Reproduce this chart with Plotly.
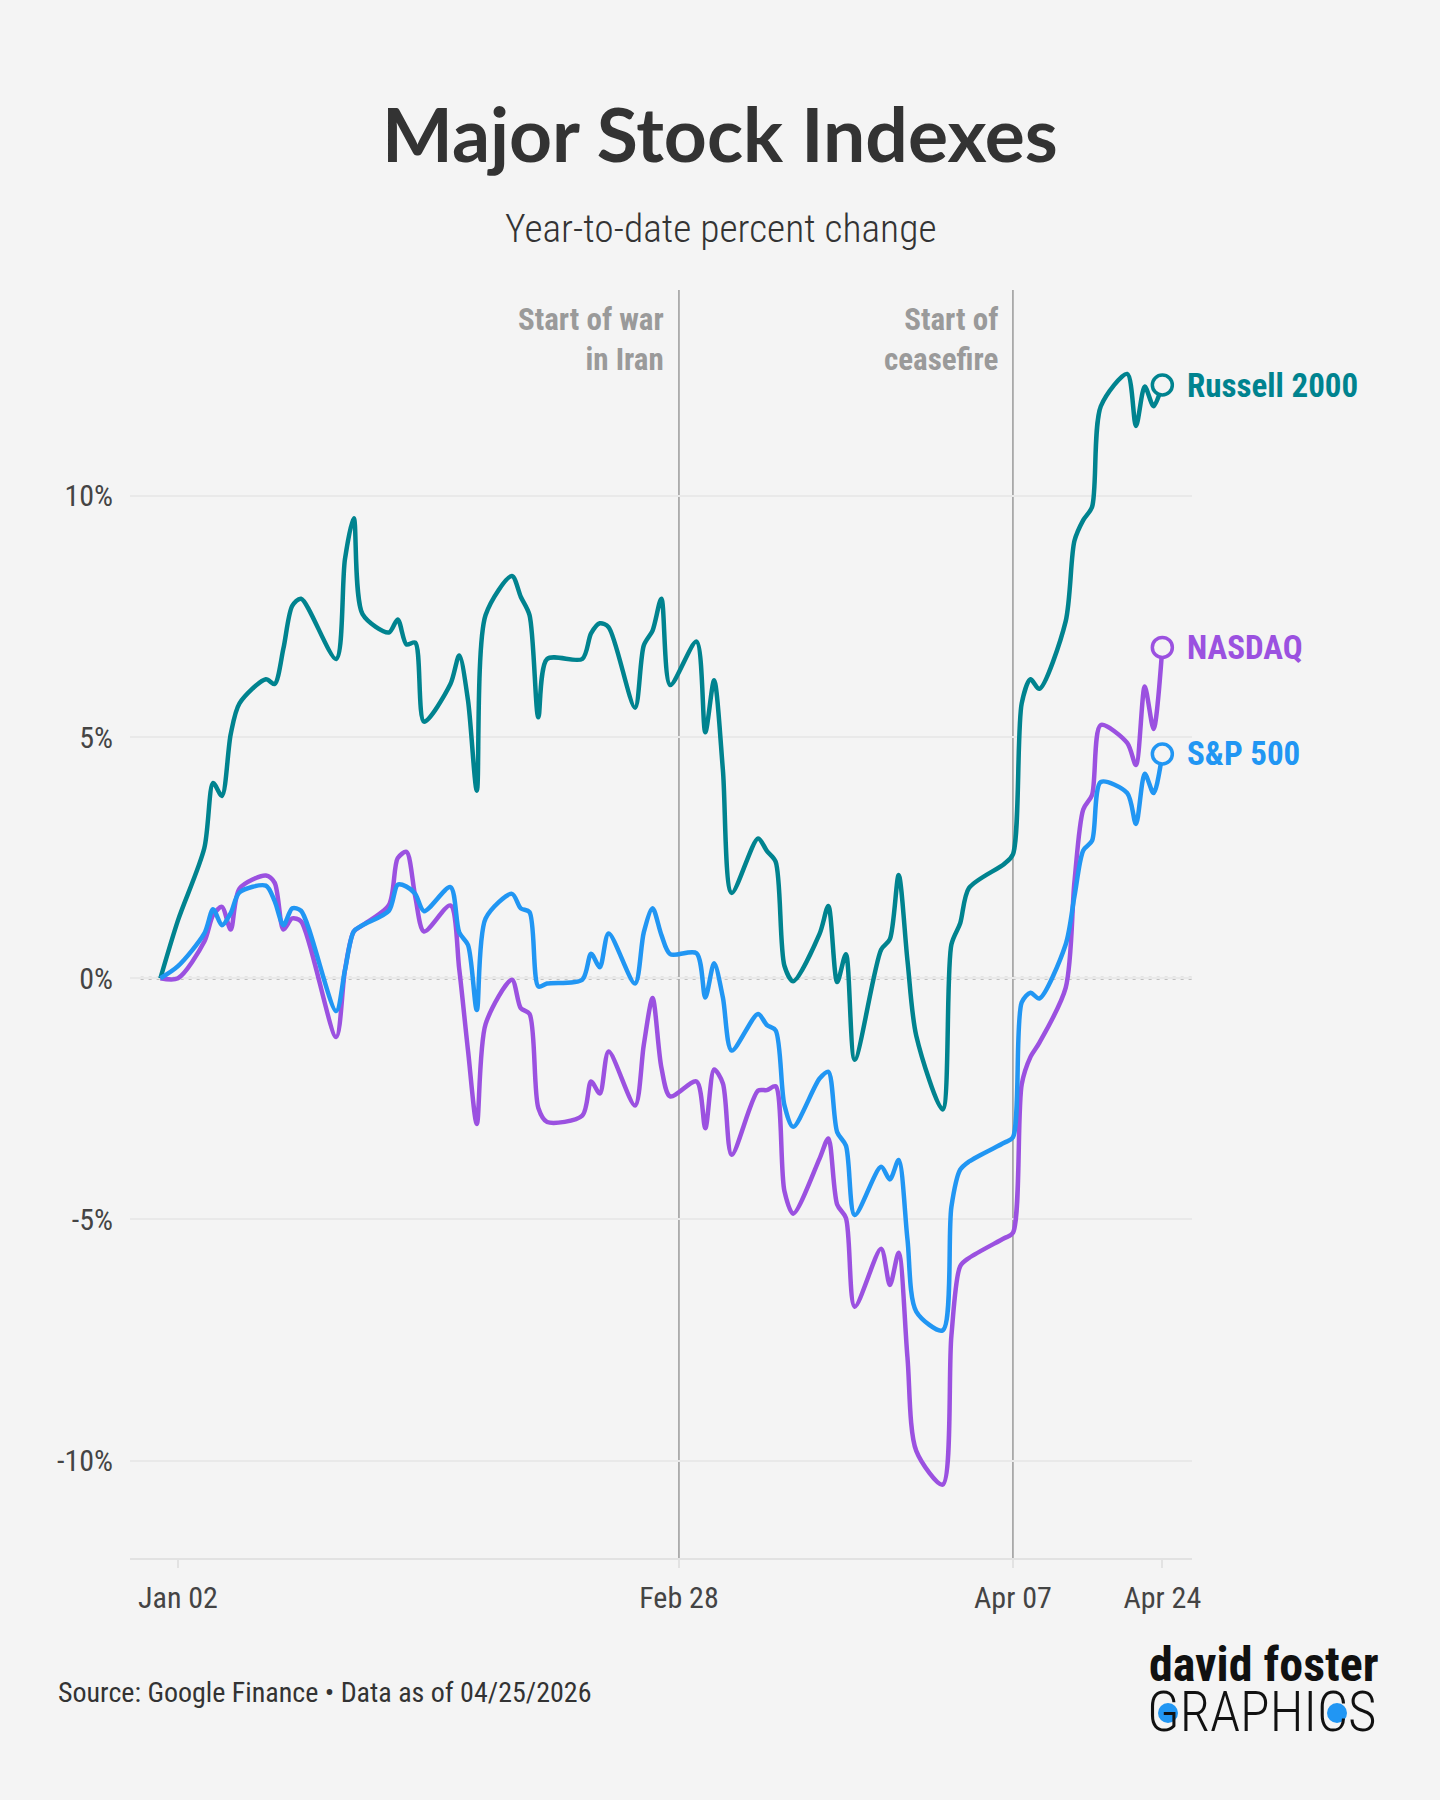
import plotly.graph_objects as go

dates = [
    "2025-12-31", "2026-01-02",
    "2026-01-05", "2026-01-06", "2026-01-07", "2026-01-08", "2026-01-09",
    "2026-01-12", "2026-01-13", "2026-01-14", "2026-01-15", "2026-01-16",
    "2026-01-20", "2026-01-21", "2026-01-22", "2026-01-23",
    "2026-01-26", "2026-01-27", "2026-01-28", "2026-01-29", "2026-01-30",
    "2026-02-02", "2026-02-03", "2026-02-04", "2026-02-05", "2026-02-06",
    "2026-02-09", "2026-02-10", "2026-02-11", "2026-02-12", "2026-02-13",
    "2026-02-17", "2026-02-18", "2026-02-19", "2026-02-20",
    "2026-02-23", "2026-02-24", "2026-02-25", "2026-02-26", "2026-02-27",
    "2026-03-02", "2026-03-03", "2026-03-04", "2026-03-05", "2026-03-06",
    "2026-03-09", "2026-03-10", "2026-03-11", "2026-03-12", "2026-03-13",
    "2026-03-16", "2026-03-17", "2026-03-18", "2026-03-19", "2026-03-20",
    "2026-03-23", "2026-03-24", "2026-03-25", "2026-03-26", "2026-03-27",
    "2026-03-30", "2026-03-31", "2026-04-01", "2026-04-02",
    "2026-04-06", "2026-04-07", "2026-04-08", "2026-04-09", "2026-04-10",
    "2026-04-13", "2026-04-14", "2026-04-15", "2026-04-16", "2026-04-17",
    "2026-04-20", "2026-04-21", "2026-04-22", "2026-04-23", "2026-04-24",
]

russell_2000 = [
    0, 1.2,
    2.7, 4.05, 3.78, 5.06, 5.7,
    6.2, 6.1, 6.84, 7.72, 7.87,
    6.62, 8.69, 9.54, 7.55,
    7.17, 7.44, 6.92, 6.96, 5.32,
    6.1, 6.69, 5.76, 3.89, 7.53,
    8.34, 7.91, 7.53, 5.41, 6.62,
    6.62, 7.15, 7.36, 7.28,
    5.61, 6.90, 7.21, 7.87, 6.08,
    6.98, 5.10, 6.18, 4.32, 1.77,
    2.90, 2.64, 2.42, 0.26, -0.06,
    0.92, 1.50, -0.08, 0.5, -1.69,
    0.59, 0.81, 2.14, 0.37, -1.19,
    -2.72, 0.70, 1.14, 1.87,
    2.37, 2.57, 5.7, 6.2, 6.0,
    7.4, 9.07, 9.5, 9.77, 11.86,
    12.53, 11.45, 12.27, 11.86, 12.3,
]

sp_500 = [
    0, 0.25,
    0.93, 1.43, 1.1, 1.35, 1.78,
    1.92, 1.6, 1.1, 1.45, 1.4,
    -0.68, 0.17, 0.97, 1.1,
    1.4, 1.94, 1.9, 1.75, 1.39,
    1.89, 0.95, 0.69, -0.66, 1.24,
    1.75, 1.45, 1.37, -0.17, -0.11,
    -0.03, 0.51, 0.23, 0.93,
    -0.11, 0.95, 1.45, 0.9, 0.5,
    0.52, -0.4, 0.31, -0.4, -1.5,
    -0.74, -0.97, -1.08, -2.63, -3.08,
    -2.08, -1.94, -3.19, -3.47, -4.91,
    -3.91, -4.17, -3.77, -5.41, -6.91,
    -7.3, -4.74, -3.97, -3.8,
    -3.41, -3.3, -0.5, -0.3, -0.42,
    0.7, 1.7, 2.65, 2.85, 4.07,
    3.84, 3.2, 4.24, 3.84, 4.65,
]

nasdaq = [
    0, 0.0,
    0.76, 1.31, 1.48, 1.01, 1.86,
    2.13, 1.98, 1.01, 1.24, 1.18,
    -1.22, 0.17, 0.97, 1.1,
    1.52, 2.49, 2.62, 1.69, 0.97,
    1.51, 0.19, -1.5, -3.02, -0.95,
    -0.03, -0.62, -0.74, -2.69, -2.98,
    -2.85, -2.14, -2.39, -1.52,
    -2.64, -1.38, -0.41, -1.85, -2.45,
    -2.14, -3.11, -1.89, -2.18, -3.66,
    -2.33, -2.32, -2.24, -4.41, -4.88,
    -3.74, -3.32, -4.69, -4.97, -6.81,
    -5.61, -6.36, -5.69, -7.86, -9.8,
    -10.5, -7.41, -5.97, -5.8,
    -5.39, -5.28, -2.2, -1.63, -1.34,
    -0.2, 2.0, 3.5, 3.8, 5.25,
    4.88, 4.42, 6.05, 5.17, 6.86,
]

series_names = ["Russell 2000", "NASDAQ", "S&P 500"]
series_values = [russell_2000, nasdaq, sp_500]
series_colors = ["#00838F", "#9B51E0", "#2196F3"]

event_dates = ["2026-02-28", "2026-04-07"]
event_labels = ["Start of war<br>in Iran", "Start of<br>ceasefire"]

x_tick_vals = ["2026-01-02", "2026-02-28", "2026-04-07", "2026-04-24"]
x_tick_text = ["Jan 02", "Feb 28", "Apr 07", "Apr 24"]
y_tick_vals = [-10, -5, 0, 5, 10]
y_tick_text = ["-10%", "-5%", "0%", "5%", "10%"]

title_text = "Major Stock Indexes"
subtitle_text = "Year-to-date percent change"
source_text = "Source: Google Finance \u2022 Data as of 04/25/2026"

FONT = "Roboto Condensed, Liberation Sans Narrow, Roboto, sans-serif"
TITLE_FONT = "Lato, Roboto Condensed, sans-serif"
BG = "#f4f4f4"
TEXT = "#333333"

L, R, T, B = 130, 1192, 290, 1558
PW, PH = R - L, B - T


def px(x):
    return (x - L) / PW


def py(y):
    return (B - y) / PH


fig = go.Figure()

# lines
for name, vals, col in zip(series_names, series_values, series_colors):
    fig.add_trace(go.Scatter(
        x=dates, y=vals, mode="lines", name=name,
        line=dict(color=col, width=4.5, shape="spline", smoothing=0.8),
        hoverinfo="skip", showlegend=False,
    ))

# end markers + labels
for name, vals, col in zip(series_names, series_values, series_colors):
    fig.add_trace(go.Scatter(
        x=[dates[-1]], y=[vals[-1]], mode="markers",
        marker=dict(symbol="circle", size=20, color=BG,
                    line=dict(color=col, width=3.5)),
        hoverinfo="skip", showlegend=False, cliponaxis=False,
    ))
    fig.add_annotation(
        x=dates[-1], y=vals[-1], xref="x", yref="y",
        text=f"<b>{name}</b>", showarrow=False,
        xanchor="left", yanchor="middle", xshift=23,
        font=dict(family=FONT, size=33, color=col),
    )

# event lines and labels
for d, lab in zip(event_dates, event_labels):
    fig.add_shape(type="line", xref="x", yref="paper", x0=d, x1=d, y0=0, y1=1,
                  line=dict(color="#9a9a9a", width=1.5), layer="below")
    fig.add_annotation(
        x=d, y=0.993, xref="x", yref="paper", text=f"<b>{lab}</b>",
        showarrow=False, xanchor="right", yanchor="top", align="right",
        xshift=-13, font=dict(family=FONT, size=31, color="#9a9a9a"),
    )

# zero line dotted
fig.add_shape(type="line", xref="paper", yref="y", x0=0.01, x1=1, y0=0, y1=0,
              line=dict(color="#b0b0b0", width=3, dash="3px,5px"), layer="below")

# title, subtitle, source, logo
annots = [
    dict(text=f"<b>{title_text}</b>", x=720, y=133, size=75, color=TEXT,
         xanchor="center", family=TITLE_FONT, weight=None),
    dict(text=subtitle_text, x=720, y=228, size=39.5, color=TEXT,
         xanchor="center", family=FONT, weight=300),
    dict(text=source_text, x=56, y=1692, size=28, color=TEXT,
         xanchor="left", family=FONT, weight=None),
    dict(text="<b>david foster</b>", x=1381, y=1664, size=48, color="#111111",
         xanchor="right", family=FONT, weight=None),
    dict(text="GRAPHICS", x=1379, y=1712, size=55, color="#111111",
         xanchor="right", family=FONT, weight=300),
]
for a in annots:
    f = dict(family=a["family"], size=a["size"], color=a["color"])
    if a["weight"]:
        f["weight"] = a["weight"]
    fig.add_annotation(
        text=a["text"], xref="paper", yref="paper",
        x=px(a["x"]), y=py(a["y"]),
        xanchor=a["xanchor"], yanchor="middle", showarrow=False,
        font=f,
    )

# logo blue dots inside G and C
for cx, cy in [(1168, 1713), (1337, 1713)]:
    r = 10
    fig.add_shape(type="circle", xref="paper", yref="paper",
                  x0=px(cx - r), x1=px(cx + r), y0=py(cy + r), y1=py(cy - r),
                  fillcolor="#2196F3", line=dict(width=0))

fig.update_layout(
    width=1440, height=1800,
    paper_bgcolor=BG, plot_bgcolor=BG,
    margin=dict(l=L, r=1440 - R, t=T, b=1800 - B),
    font=dict(family=FONT, color="#444444"),
    showlegend=False,
    xaxis=dict(
        type="date", range=["2025-12-27 13:00", "2026-04-27 09:00"],
        tickvals=x_tick_vals, ticktext=x_tick_text,
        tickfont=dict(size=30, color="#444444"),
        showgrid=False, zeroline=False,
        showline=True, linecolor="#e2e2e2", linewidth=2,
        ticks="outside", ticklen=8, tickcolor="#e2e2e2", tickwidth=2,
        ticklabelstandoff=4,
    ),
    yaxis=dict(
        range=[-12.02, 14.27],
        tickvals=y_tick_vals, ticktext=y_tick_text,
        tickfont=dict(size=30, color="#444444"),
        showgrid=True, gridcolor="#e9e9e9", gridwidth=2,
        zeroline=False, showline=False, ticks="",
        ticklabelstandoff=16,
    ),
)

fig.write_html(
    "out.html",
    config={"displayModeBar": False},
    post_script="document.body.style.margin='0';document.body.style.background='#f4f4f4';",
)
